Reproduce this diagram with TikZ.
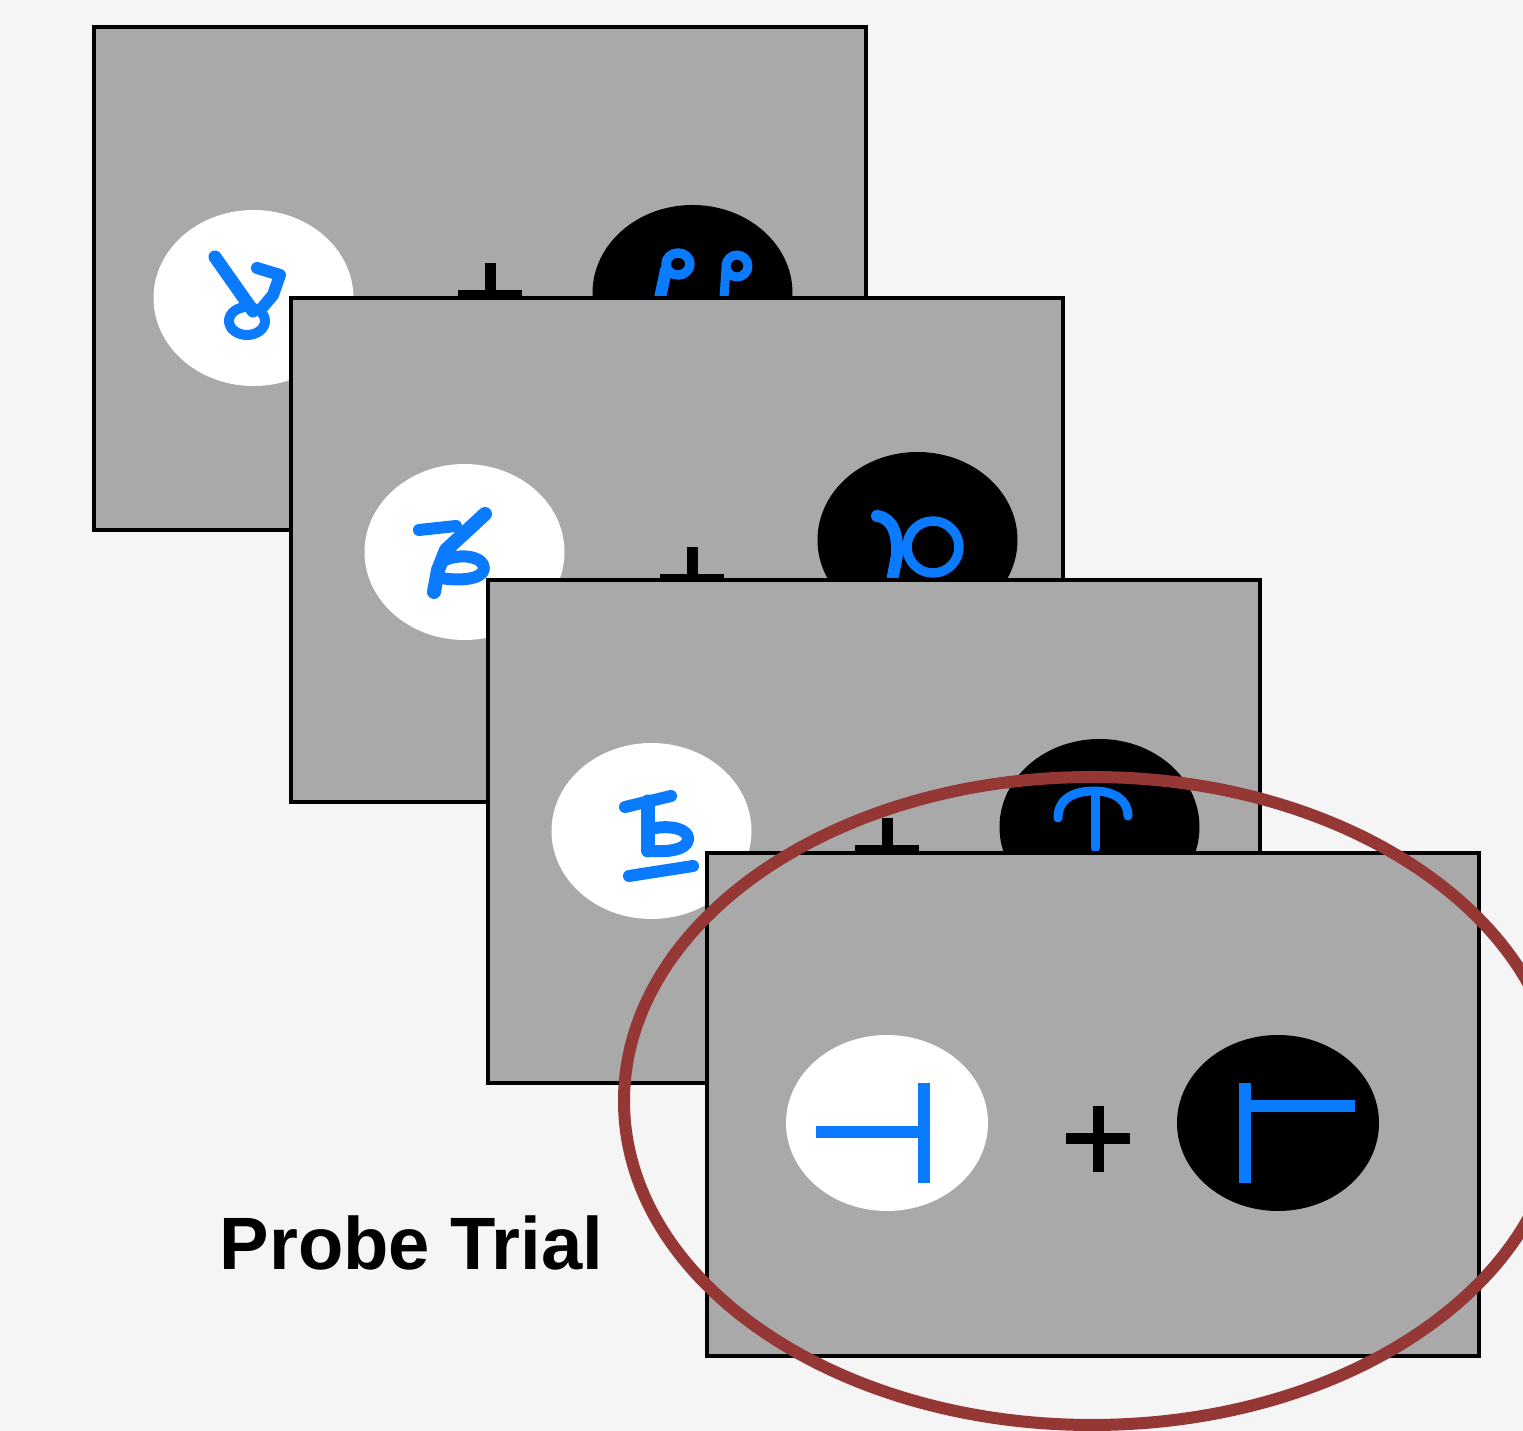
\documentclass[tikz,border=0pt]{standalone}
\usepackage{fontspec}
\setmainfont{Liberation Sans}
\definecolor{bg}{HTML}{F5F5F5}
\definecolor{panelgray}{HTML}{A9A9A9}
\definecolor{glyphblue}{HTML}{0A7BFF}
\definecolor{ringred}{HTML}{953735}
\tikzset{
  panel/.style={fill=panelgray, draw=black, line width=0.04cm},
  glyph/.style={draw=glyphblue, line width=0.12cm, line cap=round, line join=round},
  thinglyph/.style={draw=glyphblue, line width=0.09cm, line cap=round, line join=round},
  fixmark/.style={fill=black},
  bar/.style={fill=glyphblue},
}
\newcommand{\fixcross}[2]{%
  \fill[fixmark] ({#1-5.5},{#2-33}) rectangle ({#1+5.5},{#2+33});
  \fill[fixmark] ({#1-32},{#2-5.5}) rectangle ({#1+32},{#2+5.5});}
\begin{document}
\begin{tikzpicture}[x=0.01cm,y=-0.01cm]
\useasboundingbox (0,0) rectangle (1523,1431);
\clip (0,0) rectangle (1523,1431);
\fill[bg] (0,0) rectangle (1523,1431);

% ---- panel 1
\draw[panel] (94,27) rectangle (866,530);
\fill[white] (253.5,298) ellipse [x radius=100, y radius=88];
\fill[black] (692.5,293) ellipse [x radius=100, y radius=88];
\fixcross{490}{296}
\draw[glyph, line width=0.13cm] (215,257) -- (253,311);
\draw[glyph, line width=0.1cm] (247,321) ellipse [x radius=18, y radius=14];
\draw[glyph] (257,268) -- (280,275) -- (273,295) -- (262,308);
\draw[glyph, line width=0.095cm] (678,264) ellipse [x radius=12, y radius=11];
\draw[glyph, line width=0.12cm] (666,270) -- (660,298);
\draw[thinglyph] (737,266) ellipse [x radius=11, y radius=11];
\draw[thinglyph] (726,268) -- (724,298);

% ---- panel 2
\draw[panel] (291,298) rectangle (1063,802);
\fill[white] (464.5,552) ellipse [x radius=100, y radius=88];
\fill[black] (917.5,540) ellipse [x radius=100, y radius=88];
\fixcross{692}{580}
\draw[glyph, line width=0.14cm] (485,514) -- (446,550) -- (438,570) -- (434,592);
\draw[glyph] (419,530) -- (456,526);
\draw[glyph] (441,562) .. controls (458,552) and (485,556) .. (484,569) .. controls (482,580) and (458,581) .. (441,578);
\draw[glyph, line width=0.095cm] (933,547) ellipse [x radius=26, y radius=26];
\draw[glyph] (877,516) .. controls (893,518) and (898,535) .. (897,555) -- (893,576);

% ---- panel 3
\draw[panel] (488,580) rectangle (1260,1083);
\fill[white] (651.5,831) ellipse [x radius=100, y radius=88];
\fill[black] (1099.5,827) ellipse [x radius=100, y radius=88];
\fixcross{887}{851}
\draw[glyph] (625,807) -- (671,796);
\draw[glyph, line width=0.13cm] (648,801) -- (648,851);
\draw[glyph] (650,829) .. controls (672,824) and (690,830) .. (688,840) .. controls (686,850) and (668,852) .. (652,851);
\draw[glyph] (629,876) -- (693,866);
\draw[thinglyph] (1058,818) .. controls (1058,798) and (1075,791) .. (1094,791) .. controls (1114,791) and (1128,800) .. (1128,816);
\draw[thinglyph] (1095,792) -- (1095,848);

% ---- panel 4 (probe)
\draw[panel] (707,853) rectangle (1479,1356);
\fill[white] (887,1123) ellipse [x radius=101, y radius=88];
\fill[black] (1278,1123) ellipse [x radius=101, y radius=88];
\fixcross{1098}{1139}
\fill[bar] (816,1126) rectangle (930,1138);
\fill[bar] (918,1083) rectangle (930,1183);
\fill[bar] (1239,1083) rectangle (1251,1183);
\fill[bar] (1239,1100) rectangle (1355,1112);

% ---- highlight ring
\draw[ringred, line width=0.12cm] (1092,1101) ellipse [x radius=468, y radius=324];

\node[font=\bfseries\fontsize{21.1}{25}\selectfont, anchor=base west, inner sep=0] (label) at (219,1270) {Probe Trial};
\end{tikzpicture}
\end{document}
